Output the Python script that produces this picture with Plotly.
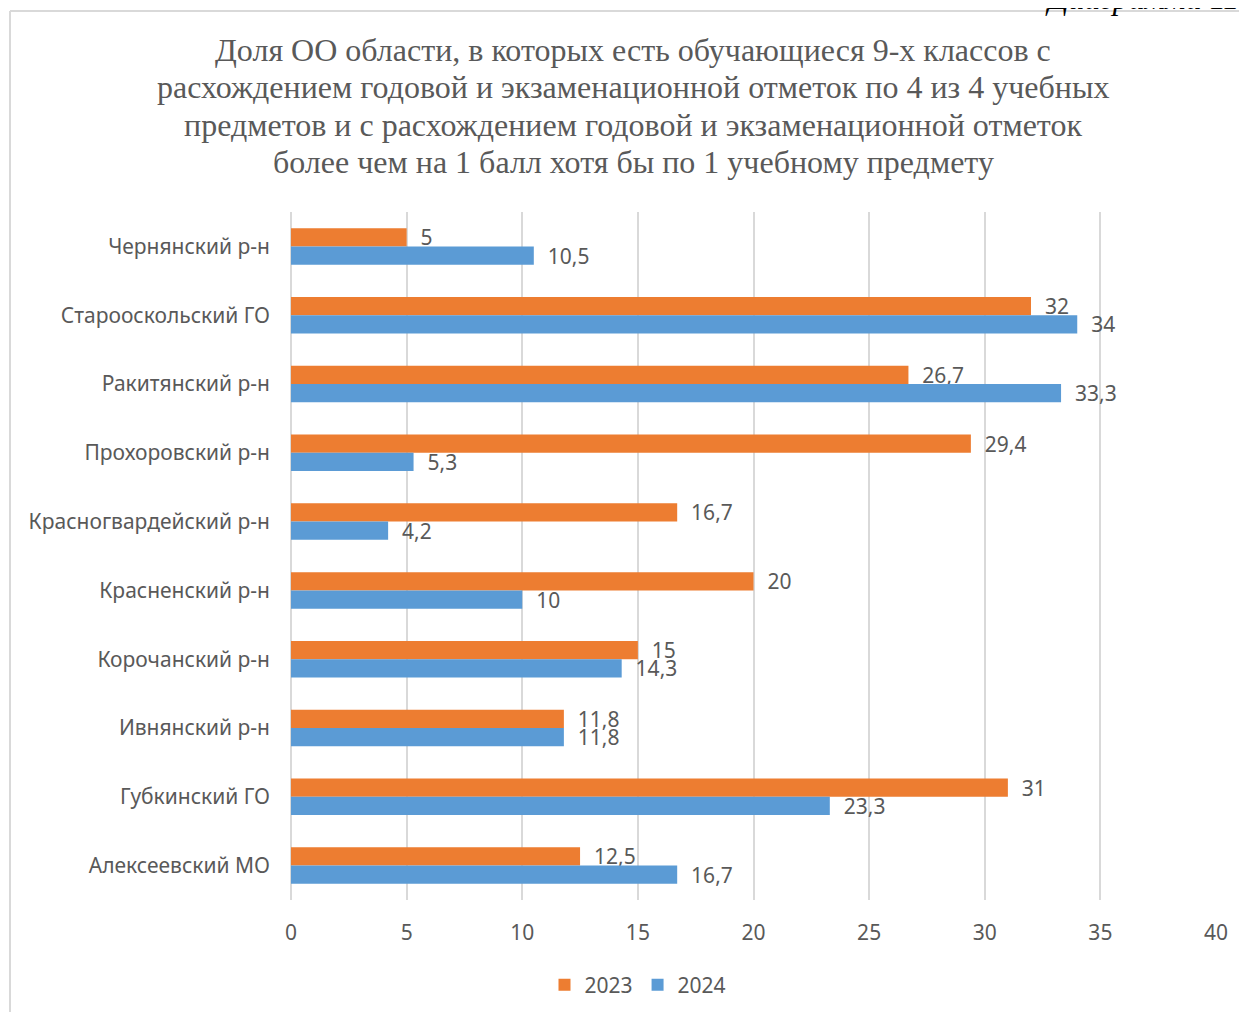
import plotly.graph_objects as go

# Data
districts = ['Чернянский р-н', 'Старооскольский ГО', 'Ракитянский р-н', 'Прохоровский р-н',
             'Красногвардейский р-н', 'Красненский р-н', 'Корочанский р-н', 'Ивнянский р-н',
             'Губкинский ГО', 'Алексеевский МО']
values_2023 = [5, 32, 26.7, 29.4, 16.7, 20, 15, 11.8, 31, 12.5]
values_2024 = [10.5, 34, 33.3, 5.3, 4.2, 10, 14.3, 11.8, 23.3, 16.7]
x_ticks = [0, 5, 10, 15, 20, 25, 30, 35, 40]

title_lines = ['Доля ОО области, в которых есть обучающиеся 9-х классов с',
               'расхождением годовой и экзаменационной отметок по 4 из 4 учебных',
               'предметов и с расхождением годовой и экзаменационной отметок',
               'более чем на 1 балл хотя бы по 1 учебному предмету']

SANS = 'Noto Sans, Open Sans, sans-serif'
SERIF = 'Liberation Serif, Times New Roman, serif'
TXT = '#595959'

# page has an 8px body margin, so the figure is laid out in (page - 8) pixels
W, H = 1239, 1004
L, R, T, B = 283, 31, 204, 112
PW, PH = W - L - R, H - T - B


def px(x):
    return (x - 8 - L) / PW


def py(y):
    return (H - B - (y - 8)) / PH


def label(v):
    return '\u00a0\u00a0' + str(v).replace('.', ',')


fig = go.Figure()

fig.add_trace(go.Bar(y=districts, x=values_2023, name='2023', orientation='h',
                     marker=dict(color='#ED7D31', line=dict(width=0)),
                     text=[label(v) for v in values_2023], textposition='outside',
                     constraintext='none', cliponaxis=False,
                     textfont=dict(family=SANS, size=21, color=TXT)))

fig.add_trace(go.Bar(y=districts, x=values_2024, name='2024', orientation='h',
                     marker=dict(color='#5B9BD5', line=dict(width=0)),
                     text=[label(v) for v in values_2024], textposition='outside',
                     constraintext='none', cliponaxis=False,
                     textfont=dict(family=SANS, size=21, color=TXT)))

# chart area border (left and top edges visible in the reference)
fig.add_shape(type='line', xref='paper', yref='paper', x0=px(10), x1=px(10), y0=py(1100), y1=py(11),
              line=dict(color='#d9d9d9', width=2))
fig.add_shape(type='line', xref='paper', yref='paper', x0=px(10), x1=px(1300), y0=py(11), y1=py(11),
              line=dict(color='#d9d9d9', width=2))

# title, one line per annotation to keep the tight line spacing
for i, line in enumerate(title_lines):
    fig.add_annotation(text=line, xref='paper', yref='paper', x=px(633), y=py(50 + i * 37.3),
                       xanchor='center', yanchor='middle', showarrow=False,
                       font=dict(family=SERIF, size=32, color=TXT))

fig.add_annotation(text='<i>Диаграмма 11</i>', xref='paper', yref='paper',
                   x=px(1043), y=py(18), xanchor='left', yanchor='bottom',
                   showarrow=False, font=dict(family=SERIF, size=32, color='#000000'))

fig.update_layout(
    width=W, height=H,
    margin=dict(l=L, r=R, t=T, b=B, autoexpand=False),
    paper_bgcolor='white', plot_bgcolor='white',
    barmode='group', bargap=0.47, bargroupgap=0,
    legend=dict(orientation='h', x=px(638), xanchor='center',
                y=py(985), yanchor='middle',
                font=dict(family=SANS, size=21, color=TXT)),
    xaxis=dict(range=[0, 40], tickvals=x_ticks, showgrid=True, gridcolor='#d9d9d9', gridwidth=2,
               zeroline=True, zerolinecolor='#d9d9d9', zerolinewidth=2, showline=False,
               ticks='', ticklabelstandoff=18, automargin=False,
               tickfont=dict(family=SANS, size=21, color=TXT)),
    yaxis=dict(autorange='reversed', showgrid=False, ticks='', ticklabelstandoff=20,
               automargin=False,
               tickfont=dict(family=SANS, size=21, color=TXT)),
    showlegend=True,
)

fig.write_html('out.html')
